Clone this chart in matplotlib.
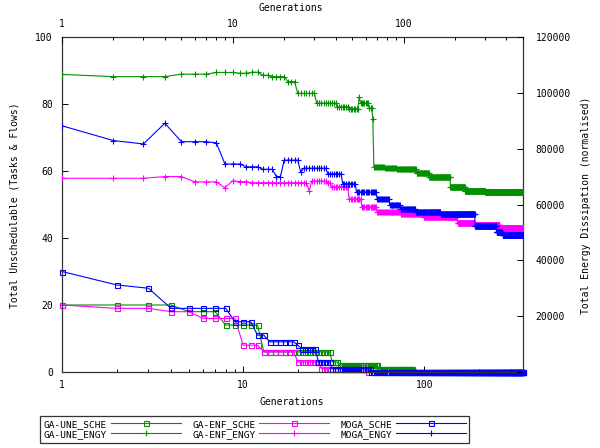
import numpy as np
import matplotlib.pyplot as plt
from matplotlib.ticker import FixedLocator, LogLocator, NullFormatter, FuncFormatter

plt.rcParams['font.family'] = ['DejaVu Sans Mono']
plt.rcParams['font.size'] = 7

# step data: generation at which a value starts, value held until the next start
une_sche_gen = [1, 5, 8, 13, 31, 34, 56]
une_sche_val = [20, 18, 14, 6, 3, 2, 1]
une_sche_last = 85

enf_sche_gen = [1, 2, 4, 6, 10, 13, 20, 27, 49]
enf_sche_val = [20, 19, 18, 16, 8, 6, 3, 1, 0]
enf_sche_last = 49

moga_sche_gen = [1, 2, 3, 4, 9, 12, 14, 20, 21, 26, 31, 51]
moga_sche_val = [30, 26, 25, 19, 15, 11, 9, 8, 7, 3, 1, 0]
moga_sche_last = 350

une_engy_gen = [1, 2, 5, 8, 11, 13, 15, 17, 21, 24, 31, 41, 48, 55, 56, 63, 66,
                67, 78, 91, 119, 141, 188, 229, 300]
une_engy_val = [106600, 105800, 106700, 107300, 107000, 107400, 106300, 105800,
                104000, 99800, 96300, 95000, 94300, 98600, 96300, 94500, 90800,
                73500, 73100, 72600, 71300, 69900, 66300, 65000, 64300]
une_engy_last = 500

enf_engy_gen = [1, 4, 6, 9, 10, 11, 13, 28, 29, 36, 38, 48, 57, 70, 96, 131, 207,
                261, 365]
enf_engy_val = [69400, 70000, 68100, 66000, 68500, 68200, 67800, 64900, 68400,
                67700, 66400, 62000, 59200, 57300, 56600, 55500, 53200, 52600,
                51700]
enf_engy_last = 500

moga_engy_gen = [1, 2, 3, 4, 5, 8, 9, 12, 15, 18, 20, 25, 26, 36, 44, 53, 70, 83,
                 96, 118, 165, 262, 350, 380]
moga_engy_val = [88200, 82900, 81700, 89100, 82500, 82100, 74500, 73500, 72600,
                 70000, 75900, 71500, 73000, 71000, 67500, 64500, 62000, 59700,
                 58300, 57400, 56500, 52300, 50300, 49100]
moga_engy_last = 500

left_ticks = [0, 20, 40, 60, 80, 100]
right_ticks = [0, 20000, 40000, 60000, 80000, 100000, 120000]
gen_ticks = [1, 10, 100]

GREEN = '#009000'
PINK = '#ff00ff'
BLUE = '#0000ff'


def expand(starts, vals, last):
    edges = np.array(list(starts) + [last + 1])
    gens = np.arange(starts[0], last + 1)
    return gens, np.repeat(vals, np.diff(edges))


W, H = 600, 448
fig = plt.figure(figsize=(6, 4.48), dpi=100)
L, R, T, B = 62, 523, 37, 372
rect = [L / W, 1 - B / H, (R - L) / W, (B - T) / H]

ax = fig.add_axes(rect)
ax2 = fig.add_axes(rect, frameon=False)

sq = dict(marker='s', ms=3.6, mfc='none', mew=0.8, lw=0.8, clip_on=False)
pl = dict(marker='+', ms=5.0, mew=0.8, lw=0.8)

h = {}
g, v = expand(une_sche_gen, une_sche_val, une_sche_last)
h['GA-UNE_SCHE'], = ax.plot(g, v, color=GREEN, **sq)
g, v = expand(une_engy_gen, une_engy_val, une_engy_last)
h['GA-UNE_ENGY'], = ax2.plot(g, v, color=GREEN, **pl)
g, v = expand(enf_sche_gen, enf_sche_val, enf_sche_last)
h['GA-ENF_SCHE'], = ax.plot(g, v, color=PINK, **sq)
g, v = expand(enf_engy_gen, enf_engy_val, enf_engy_last)
h['GA-ENF_ENGY'], = ax2.plot(g, v, color=PINK, **pl)
g, v = expand(moga_sche_gen, moga_sche_val, moga_sche_last)
h['MOGA_SCHE'], = ax.plot(g, v, color=BLUE, **sq)
g, v = expand(moga_engy_gen, moga_engy_val, moga_engy_last)
h['MOGA_ENGY'], = ax2.plot(g, v, color=BLUE, **pl)

fmt = FuncFormatter(lambda x, p: f'{x:g}')

ax.set_xscale('log')
ax.set_xlim(1, 350)
ax.set_ylim(0, 100)
ax.xaxis.set_major_locator(FixedLocator(gen_ticks))
ax.xaxis.set_major_formatter(fmt)
ax.xaxis.set_minor_locator(LogLocator(subs=range(2, 10)))
ax.xaxis.set_minor_formatter(NullFormatter())
ax.yaxis.set_major_locator(FixedLocator(left_ticks))
ax.tick_params(which='both', direction='in', top=False, right=False, width=0.7)
ax.tick_params(which='major', length=4.5)
ax.tick_params(which='minor', length=2.5)
ax.tick_params(axis='x', pad=6)
ax.tick_params(axis='y', pad=6.5)
for s in ax.spines.values():
    s.set_linewidth(0.9)
    s.set_color('#333333')

ax2.set_xscale('log')
ax2.set_xlim(1, 500)
ax2.set_ylim(0, 120000)
ax2.xaxis.tick_top()
ax2.yaxis.tick_right()
ax2.xaxis.set_major_locator(FixedLocator(gen_ticks))
ax2.xaxis.set_major_formatter(fmt)
ax2.xaxis.set_minor_locator(LogLocator(subs=range(2, 10)))
ax2.xaxis.set_minor_formatter(NullFormatter())
ax2.yaxis.set_major_locator(FixedLocator(right_ticks))
ax2.yaxis.set_major_formatter(FuncFormatter(lambda y, p: '' if y == 0 else f'{y:.0f}'))
ax2.tick_params(which='both', direction='in', bottom=False, left=False, width=0.7)
ax2.tick_params(which='major', length=4.5)
ax2.tick_params(which='minor', length=2.5)
ax2.tick_params(axis='x', pad=5.5)
ax2.tick_params(axis='y', pad=9)

fig.text(292 / W, 1 - 402 / H, 'Generations', ha='center', va='center')
fig.text(291 / W, 1 - 8 / H, 'Generations', ha='center', va='center')
fig.text(15 / W, 1 - 205 / H, 'Total Unschedulable (Tasks & Flows)',
         rotation=90, ha='center', va='center')
fig.text(586 / W, 1 - 205 / H, 'Total Energy Dissipation (normalised)',
         rotation=90, ha='center', va='center')

labels = ['GA-UNE_SCHE', 'GA-UNE_ENGY', 'GA-ENF_SCHE', 'GA-ENF_ENGY',
          'MOGA_SCHE', 'MOGA_ENGY']
leg = fig.legend([h[k] for k in labels], labels, ncol=3, loc='upper left',
                 bbox_to_anchor=(40 / W, 1 - 416 / H), borderaxespad=0,
                 markerfirst=False, handlelength=7.4, handletextpad=0.4,
                 columnspacing=1.2, labelspacing=0.1, borderpad=0.4,
                 fontsize=6.8, fancybox=False, framealpha=1,
                 edgecolor='#333333')
leg.get_frame().set_linewidth(0.9)

fig.savefig('out.png', dpi=100)
